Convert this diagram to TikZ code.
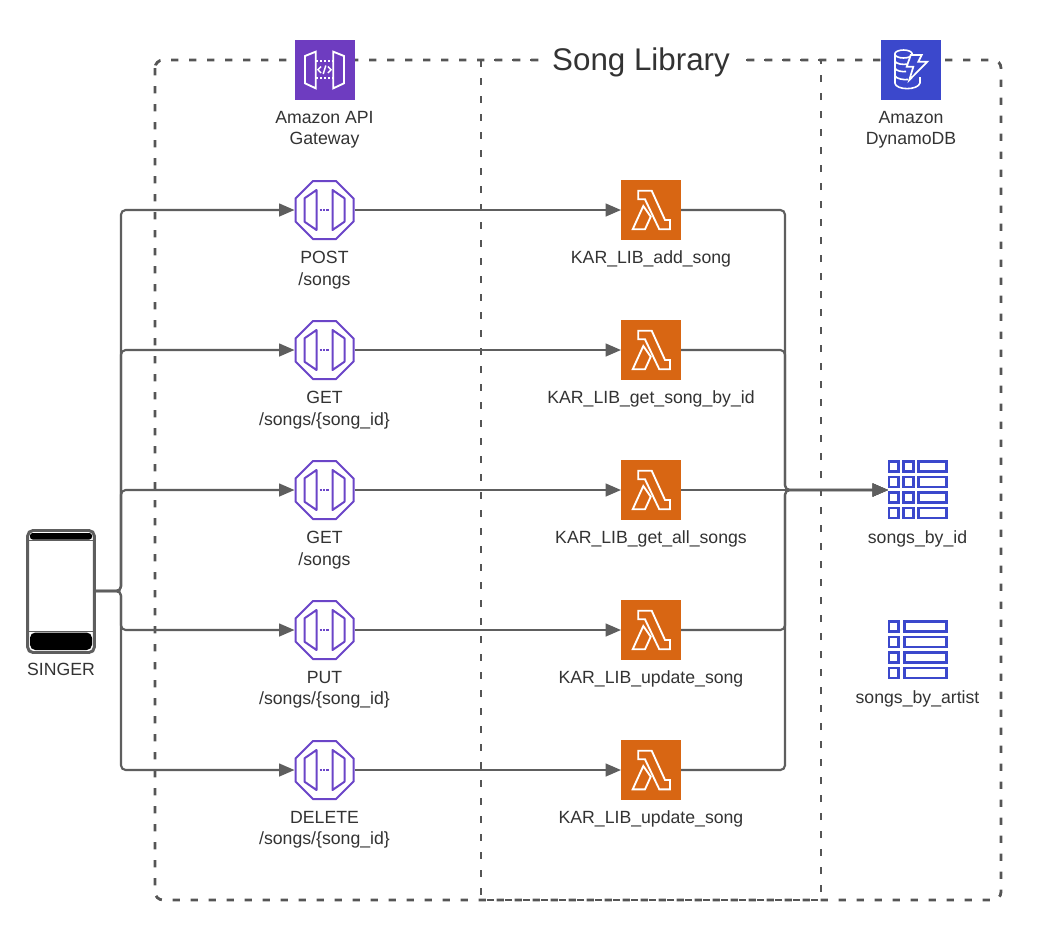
\documentclass[tikz,border=0pt]{standalone}
\usepackage{fontspec}
\setmainfont{Liberation Sans}
\usetikzlibrary{arrows.meta}
\definecolor{lineC}{HTML}{5E5E5E}
\definecolor{frameC}{HTML}{555555}
\definecolor{textC}{HTML}{333333}
\definecolor{apiC}{HTML}{6E3CC0}
\definecolor{gwC}{HTML}{6B45C8}
\definecolor{lamC}{HTML}{D86613}
\definecolor{ddbC}{HTML}{3B48CC}
\tikzset{
  anchorbox/.style={minimum width=45pt,minimum height=45pt,inner sep=0pt,outer sep=0pt},
  filledbox/.style={anchorbox,fill=#1},
  lab/.style={font=\fontsize{13.25}{16}\selectfont,text=textC,align=center,inner sep=0pt},
  conn/.style={draw=lineC,line width=1.6pt,rounded corners=3.5pt,-{Triangle[length=11.5pt,width=9.5pt]}},
  frame/.style={draw=frameC,line width=2.1pt,dash pattern=on 5.5pt off 8pt},
  icw/.style={draw=white,line width=1.4pt,line join=miter},
  pics/gwoct/.style={code={
    \draw[gwC,line width=1.5pt,fill=white] (-29,-11.5)--(-11.5,-29)--(11.5,-29)--(29,-11.5)--(29,11.5)--(11.5,29)--(-11.5,29)--(-29,11.5)--cycle;
    \draw[gwC,line width=1.5pt,line join=round] (-8,-20)--(-8,20)--(-20,11.7)--(-20,-11.7)--cycle;
    \draw[gwC,line width=1.5pt,line join=round] (8,-20)--(8,20)--(20,11.7)--(20,-11.7)--cycle;
    \draw[gwC,line width=2.2pt,dash pattern=on 1.7pt off 0.9pt] (-5,0)--(5,0);
  }},
  pics/lamic/.style={code={
    \draw[icw] (-12.7,-19.3)--(0.7,-19.3)--(14,10)--(19,10)--(19,19.3)--(8.3,19.3)--(-6,-10.7)--(-12.7,-10.7)--cycle;
    \draw[icw] (-7.7,-4)--(-18.3,19.3)--(-6,19.3)--(-0.3,6.7)--cycle;
  }},
  pics/tabA/.style={code={
    \foreach \r in {0,15.7,31.2,46.7}{
      \draw[ddbC,line width=1.9pt] (0.5,\r+.5) rectangle (10,\r+10.5);
      \draw[ddbC,line width=1.9pt] (15,\r+.5) rectangle (25,\r+10.5);
      \draw[ddbC,line width=1.9pt] (30,\r+.5) rectangle (58,\r+10.5);
    }
  }},
  pics/tabB/.style={code={
    \foreach \r in {0,15.7,31.2,46.7}{
      \draw[ddbC,line width=1.9pt] (0.5,\r+.5) rectangle (10,\r+10.5);
      \draw[ddbC,line width=1.9pt] (16,\r+.5) rectangle (58,\r+10.5);
    }
  }}
}
\begin{document}
\begin{tikzpicture}[x=0.75pt,y=-0.75pt]
\useasboundingbox[fill=white] (0,0) rectangle (1038,940);

% frames
\draw[frame,rounded corners=6pt] (155,60) rectangle (1001,900);
\draw[frame] (481,60) rectangle (821,900);
\node[lab,font=\fontsize{23.5}{28}\selectfont,fill=white,minimum width=150pt,minimum height=30pt] (title) at (641,62) {Song Library};

% top icons
\node[filledbox=apiC] (api) at (325,70) {};
\draw[icw] (305,56)--(315.7,51.7)--(315.7,88.3)--(305,83.3)--cycle;
\draw[icw] (344,56)--(333.3,51.7)--(333.3,88.3)--(344,83.3)--cycle;
\draw[icw,dash pattern=on 1.5pt off 1.5pt] (316,60.7)--(333,60.7);
\draw[icw,dash pattern=on 1.5pt off 1.5pt] (316,78.3)--(333,78.3);
\draw[icw,line width=1.1pt] (321,66.5)--(318,69.7)--(321,73);
\draw[icw,line width=1.1pt] (328,66.5)--(331,69.7)--(328,73);
\draw[icw,line width=1.1pt] (325.8,65.5)--(323.2,74);
\node[lab] (apilab) at (324.5,130) {Amazon API\\Gateway};

\node[filledbox=ddbC] (ddb) at (911,70) {};
\draw[icw,line width=1.2pt] (903.5,54) ellipse (8.7 and 4);
\draw[icw,line width=1.2pt] (894.8,54)--(894.8,83);
\draw[icw,line width=1.2pt] (894.8,61) .. controls (896,64) and (903,65) .. (908,64);
\draw[icw,line width=1.2pt] (894.8,68) .. controls (896,71) and (902,72) .. (906,71.5);
\draw[icw,line width=1.2pt] (894.8,75.5) .. controls (896,79) and (904,80) .. (908,79.5);
\draw[icw,line width=1.2pt] (894.8,83) .. controls (896,90.5) and (918,90.5) .. (920,83)--(920,77);
\draw[icw,line width=1.3pt,fill=ddbC] (910.7,55)--(921.7,55)--(918.3,61.7)--(927.3,61.7)--(909.3,80)--(913.3,66.7)--(906.7,66.7)--cycle;
\node[lab] (ddblab) at (911,130) {Amazon\\DynamoDB};

% phone
\node[anchorbox,minimum width=50pt,minimum height=91.5pt] (phone) at (61,591.5) {};
\draw[lineC,line width=2.2pt,rounded corners=4pt,fill=white] (phone.north west) rectangle (phone.south east);
\fill[black,rounded corners=2pt] (30,533) rectangle (92,539.5);
\fill[black,rounded corners=4pt] (30,632.5) rectangle (92,650);
\draw[lineC,line width=1.2pt] (29,540.5)--(93,540.5);
\draw[lineC,line width=1.2pt] (29,631.5)--(93,631.5);
\node[lab] (singer) at (61,669) {SINGER};

% rows
\foreach \n/\y/\g/\l in {
  1/210/{POST\\/songs}/KAR\_LIB\_add\_song,
  2/350/{GET\\/songs/\{song\_id\}}/KAR\_LIB\_get\_song\_by\_id,
  3/490/{GET\\/songs}/KAR\_LIB\_get\_all\_songs,
  4/630/{PUT\\/songs/\{song\_id\}}/KAR\_LIB\_update\_song,
  5/770/{DELETE\\/songs/\{song\_id\}}/KAR\_LIB\_update\_song}{
  \node[anchorbox] (g\n) at (324.5,\y) {};
  \node[filledbox=lamC] (l\n) at (651,\y) {};
  \pic at (g\n) {gwoct};
  \pic at (l\n) {lamic};
  \node[lab] (gl\n) at (324.5,\y+60) {\g};
  \node[lab] (ll\n) at (651,\y+49) {\l};
}

% tables
\node[anchorbox,minimum width=44.25pt] (t1) at (917.5,490) {};
\node[anchorbox,minimum width=44.25pt] (t2) at (917.5,650) {};
\pic at (888.5,461) {tabA};
\pic at (888.5,621) {tabB};
\node[lab] (t1l) at (917.5,539) {songs\_by\_id};
\node[lab] (t2l) at (917.5,699) {songs\_by\_artist};

% connectors
\coordinate (busL) at (121,591);
\coordinate (busR) at (785,490);
\foreach \n in {1,2,3,4,5}{
  \draw[conn] (phone.east |- busL) -- (busL) -- (busL |- g\n.west) -- (g\n.west);
  \draw[conn] (g\n.east) -- (l\n.west);
}
\foreach \n in {1,2,4,5}{
  \draw[conn] (l\n.east) -- (busR |- l\n.east) -- (busR) -- (t1.west);
}
\draw[conn] (l3.east) -- (t1.west);
\end{tikzpicture}
\end{document}
